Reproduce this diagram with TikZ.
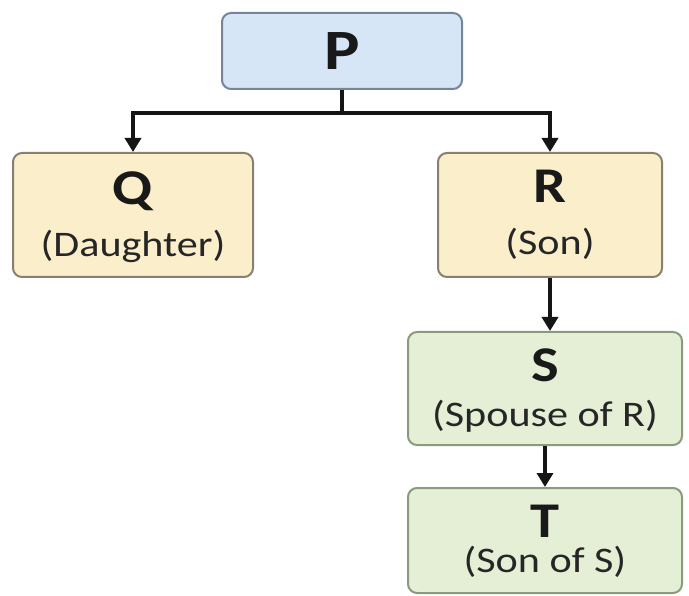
\documentclass[tikz,border=0pt]{standalone}
\usepackage{fontspec}
\setmainfont{Carlito}
\usetikzlibrary{arrows.meta}
\definecolor{pfill}{HTML}{D6E6F7}
\definecolor{pdraw}{HTML}{76849A}
\definecolor{yfill}{HTML}{FBEECB}
\definecolor{ydraw}{HTML}{878070}
\definecolor{gfill}{HTML}{E4EFD6}
\definecolor{gdraw}{HTML}{8A9A7C}
\definecolor{linkcol}{HTML}{151515}
\newcommand{\wideText}[1]{\scalebox{1.17}[1]{#1}}
\tikzset{
  boxbase/.style={rectangle, rounded corners=9pt, line width=2pt, inner sep=0pt},
  pbox/.style={boxbase, fill=pfill, draw=pdraw},
  ybox/.style={boxbase, fill=yfill, draw=ydraw},
  gbox/.style={boxbase, fill=gfill, draw=gdraw},
  titletext/.style={anchor=base, inner sep=0pt, font=\fontsize{50}{50}\selectfont\bfseries, text=black!90},
  subtext/.style={anchor=base, inner sep=0pt, font=\fontsize{36}{36}\selectfont, text=black!85},
  linkline/.style={draw=linkcol, line width=4.2pt},
  linkarrow/.style={draw=linkcol, line width=4.2pt, -{Triangle[length=14pt,width=16pt,fill=linkcol]}},
}
\begin{document}
\begin{tikzpicture}[x=1pt,y=-1pt]
\useasboundingbox (0,0) rectangle (689,596);
% boxes
\node[pbox, minimum width=240pt, minimum height=76pt] (P) at (342,51) {};
\node[ybox, minimum width=240pt, minimum height=124pt] (Q) at (133,215) {};
\node[ybox, minimum width=224pt, minimum height=124pt] (R) at (550,215) {};
\node[gbox, minimum width=274pt, minimum height=113pt] (S) at (545,388.5) {};
\node[gbox, minimum width=274pt, minimum height=105pt] (T) at (545,540.5) {};
% texts
\node[titletext, font=\fontsize{57}{57}\selectfont\bfseries] (Pt) at (342,70) {\wideText{P}};
\node[titletext] (Qt) at (133,205) {\wideText{Q}};
\node[subtext] (Qs) at (133,257) {\wideText{(Daughter)}};
\node[titletext] (Rt) at (550,203) {\wideText{R}};
\node[subtext] (Rs) at (550,255) {\wideText{(Son)}};
\node[titletext] (St) at (545,382) {\wideText{S}};
\node[subtext] (Ss) at (545,427) {\wideText{(Spouse of R)}};
\node[titletext] (Tt) at (545,537) {\wideText{T}};
\node[subtext] (Ts) at (545,572) {\wideText{(Son of S)}};
% connectors
\coordinate (J) at (342,113);
\path[linkline] (P.south) -- (J);
\path[linkarrow] (J) -| (Q.north);
\path[linkarrow] (J) -| (R.north);
\path[linkarrow] (R.south) -- (R.south |- S.north);
\path[linkarrow] (S.south) -- (S.south |- T.north);
\end{tikzpicture}
\end{document}
